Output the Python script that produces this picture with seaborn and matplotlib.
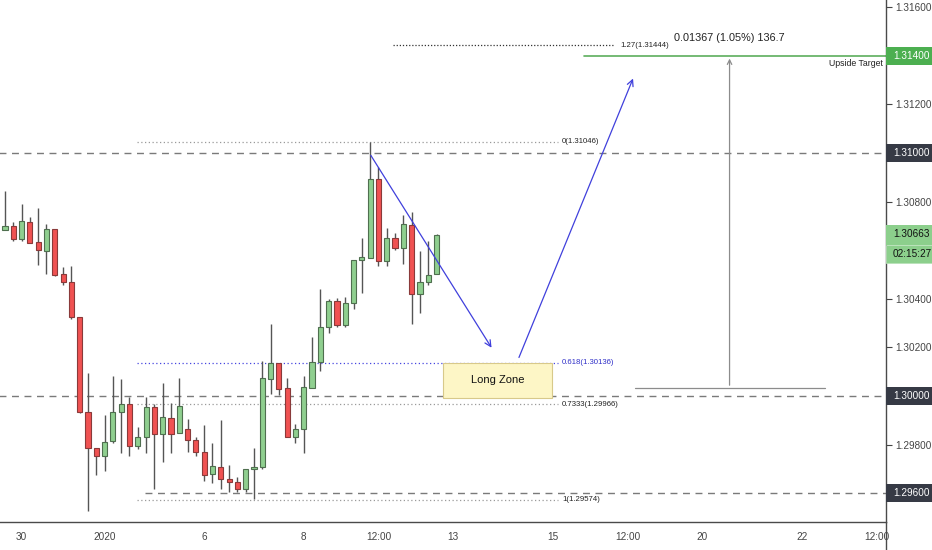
import numpy as np
import pandas as pd
import matplotlib
matplotlib.use("Agg")
import matplotlib.pyplot as plt
import matplotlib.transforms as mtransforms
from matplotlib.patches import Rectangle
from matplotlib.lines import Line2D
import seaborn as sns

# 4h candles (price units)
opens = [1.30683, 1.30700, 1.30646, 1.30716, 1.30634, 1.30597, 1.30687, 1.30502, 1.30469, 1.30325,
         1.29934, 1.29786, 1.29753, 1.29815, 1.29934, 1.29967, 1.29794, 1.29831, 1.29955, 1.29844,
         1.29909, 1.29848, 1.29864, 1.29819, 1.29770, 1.29679, 1.29708, 1.29658, 1.29646, 1.29617,
         1.29700, 1.29708, 1.30070, 1.30136, 1.30033, 1.29831, 1.29864, 1.30033, 1.30140, 1.30284,
         1.30391, 1.30292, 1.30383, 1.30560, 1.30568, 1.30893, 1.30556, 1.30650, 1.30609, 1.30704,
         1.30420, 1.30469, 1.30502]
highs = [1.30844, 1.30716, 1.30790, 1.30737, 1.30774, 1.30708, 1.30687, 1.30531, 1.30535, 1.30325,
         1.30095, 1.29786, 1.29922, 1.30082, 1.30070, 1.29996, 1.29872, 1.29996, 1.29967, 1.30053,
         1.29971, 1.30074, 1.29905, 1.29831, 1.29881, 1.29807, 1.29901, 1.29716, 1.29667, 1.29700,
         1.29786, 1.30144, 1.30296, 1.30136, 1.30074, 1.29885, 1.30082, 1.30243, 1.30440, 1.30399,
         1.30403, 1.30407, 1.30560, 1.30650, 1.31045, 1.30942, 1.30691, 1.30671, 1.30745, 1.30757,
         1.30597, 1.30638, 1.30667]
lows = [1.30683, 1.30638, 1.30638, 1.30630, 1.30539, 1.30502, 1.30494, 1.30457, 1.30317, 1.29930,
        1.29527, 1.29675, 1.29691, 1.29807, 1.29765, 1.29753, 1.29782, 1.29765, 1.29617, 1.29728,
        1.29765, 1.29848, 1.29770, 1.29753, 1.29650, 1.29642, 1.29617, 1.29605, 1.29605, 1.29605,
        1.29576, 1.29700, 1.30008, 1.30004, 1.29831, 1.29807, 1.29765, 1.30033, 1.30103, 1.30259,
        1.30284, 1.30284, 1.30358, 1.30424, 1.30568, 1.30535, 1.30535, 1.30601, 1.30543, 1.30296,
        1.30342, 1.30457, 1.30502]
closes = [1.30700, 1.30646, 1.30720, 1.30630, 1.30601, 1.30687, 1.30498, 1.30469, 1.30325, 1.29934,
          1.29786, 1.29753, 1.29811, 1.29934, 1.29967, 1.29794, 1.29831, 1.29955, 1.29844, 1.29914,
          1.29844, 1.29959, 1.29819, 1.29770, 1.29675, 1.29712, 1.29658, 1.29646, 1.29617, 1.29700,
          1.29708, 1.30074, 1.30136, 1.30029, 1.29831, 1.29864, 1.30037, 1.30140, 1.30284, 1.30391,
          1.30292, 1.30383, 1.30560, 1.30572, 1.30893, 1.30556, 1.30650, 1.30609, 1.30708, 1.30420,
          1.30469, 1.30498, 1.30663]

# time axis (candle index units)
tick_pos = [2, 12, 24, 36, 45, 54, 66, 75, 84, 96, 105]
tick_labels = ["30", "2020", "6", "8", "12:00", "13", "15", "12:00", "20", "22", "12:00"]

price_ticks = [1.296, 1.298, 1.300, 1.302, 1.304, 1.306, 1.308, 1.310, 1.312, 1.314, 1.316]
key_levels = [1.310, 1.300, 1.296]
fib_ratios = ["0", "0.618", "0.7333", "1"]
fib_prices = [1.31046, 1.30136, 1.29966, 1.29574]
ext_ratio, ext_price = "1.27", 1.31444
target_price = 1.314
last_price = 1.30663
countdown = "02:15:27"
zone_top, zone_bottom = 1.30136, 1.29992
measure_base = 1.30033
measure_text = "0.01367 (1.05%) 136.7"

df = pd.DataFrame({"open": opens, "high": highs, "low": lows, "close": closes})
df["x"] = np.arange(len(df))
df["up"] = df["close"] >= df["open"]

sns.set_theme(style="white")
plt.rcParams["font.family"] = ["Liberation Sans", "DejaVu Sans"]

fig = plt.figure(figsize=(9.32, 5.5), dpi=100)
ax = fig.add_axes([0, 28 / 550, 886 / 932, 522 / 550])
ax.set_xlim(-0.6, 106.15)
ax.set_ylim(1.294815, 1.316296)

UP, DOWN = "#8fcf8f", "#f05252"
UP_EDGE, DOWN_EDGE = "#4f6f4f", "#8a3a3a"
WICK = "#555555"
LBL = 7.2

# horizontal key levels (dashed)
for lv in key_levels:
    x0 = 16.9 if lv == 1.296 else -1
    ax.plot([x0, 107], [lv, lv], ls=(0, (5, 4)), color="#7a7a7a", lw=1, zorder=1)

# fib levels (dotted)
for r, p in zip(fib_ratios, fib_prices):
    col = "#4646e0" if r == "0.618" else "#9a9a9a"
    ax.plot([15.9, 66.6], [p, p], ls=(0, (1, 2)), color=col, lw=0.9, zorder=1)
    ax.text(67.1, p, f"{r}({p:.5f})", fontsize=5.6, va="center", ha="left",
            color="#3030c8" if r == "0.618" else "#222222")
ax.plot([46.7, 73.3], [ext_price, ext_price], ls=(0, (1, 1.5)), color="#333333", lw=0.9)
ax.text(74.1, ext_price, f"{ext_ratio}({ext_price:.5f})", fontsize=5.6, va="center", ha="left",
        color="#222222")

# candles
ax.vlines(df["x"], df["low"], df["high"], color=WICK, lw=1, zorder=2)
body_lo = df[["open", "close"]].min(axis=1)
body_h = (df["close"] - df["open"]).abs().clip(lower=0.00004)
ax.bar(df["x"], body_h, bottom=body_lo, width=0.62,
       color=[UP if u else DOWN for u in df["up"]],
       edgecolor=[UP_EDGE if u else DOWN_EDGE for u in df["up"]], lw=0.8, zorder=3)

# long zone box
ax.add_patch(Rectangle((52.8, zone_bottom), 13.1, zone_top - zone_bottom,
                       facecolor="#fdf6c6", edgecolor="#d8c98a", lw=0.8, zorder=1.5))
ax.text(59.35, (zone_top + zone_bottom) / 2, "Long Zone", fontsize=8, ha="center", va="center",
        color="#111111")

# projected path
blue = "#4040dc"
ax.annotate("", xy=(58.8, 1.30189), xytext=(43.9, 1.31000),
            arrowprops=dict(arrowstyle="->", color=blue, lw=0.9, mutation_scale=11))
ax.annotate("", xy=(75.8, 1.31317), xytext=(61.8, 1.30148),
            arrowprops=dict(arrowstyle="->", color=blue, lw=0.9, mutation_scale=11))

# upside target
ax.plot([69.8, 107], [target_price, target_price], color="#5cae5c", lw=1.2, zorder=2)
ax.text(105.8, 1.31370, "Upside Target", fontsize=6.3, ha="right", va="center", color="#222222")

# measurement
gray = "#8c8c8c"
ax.plot([75.9, 98.8], [measure_base, measure_base], color=gray, lw=0.9)
ax.annotate("", xy=(87.3, target_price), xytext=(87.3, measure_base),
            arrowprops=dict(arrowstyle="->", color=gray, lw=0.9, mutation_scale=8))
ax.text(87.3, 1.31475, measure_text, fontsize=7.8, ha="center", va="center", color="#222222")

# axes styling
sns.despine(ax=ax, left=True, top=True, right=False, bottom=False)
for side in ["right", "bottom"]:
    ax.spines[side].set_color("#4a4a4a")
    ax.spines[side].set_linewidth(1)
ax.yaxis.tick_right()
ax.set_yticks(price_ticks)
highlight = {1.314: ("#4caf50", "white"), 1.310: ("#363a45", "white"),
             1.300: ("#363a45", "white"), 1.296: ("#363a45", "white")}
covered = set(highlight) | {1.306}  # 1.306 sits under the last-price box
ax.set_yticklabels(["" if round(t, 3) in covered else f"{t:.5f}" for t in price_ticks])
ax.tick_params(axis="y", length=4, width=0.8, pad=3, labelsize=LBL, colors="#444444", direction="out")
ax.set_xticks(tick_pos)
ax.set_xticklabels(tick_labels)
ax.tick_params(axis="x", length=3, width=0.8, pad=4, labelsize=LBL, colors="#444444", direction="out")
ax.grid(False)

trans = mtransforms.blended_transform_factory(ax.transAxes, ax.transData)
box_w = 46 / 886
half_h = 0.00036
tx = 1.0 + 7 / 886
for lv, (fc, tc) in highlight.items():
    ax.add_patch(Rectangle((1.0, lv - half_h), box_w, 2 * half_h, transform=trans,
                           facecolor=fc, edgecolor="none", clip_on=False, zorder=5))
    ax.text(tx, lv, f"{lv:.5f}", transform=trans, fontsize=LBL, color=tc,
            ha="left", va="center", clip_on=False, zorder=6)

# last price + countdown
lp_h = 0.00040
ax.add_patch(Rectangle((1.0, last_price - lp_h), box_w, 2 * lp_h, transform=trans,
                       facecolor="#8ccf8c", edgecolor="none", clip_on=False, zorder=5))
ax.add_patch(Rectangle((1.0, last_price - lp_h - 0.00074), box_w, 0.00074, transform=trans,
                       facecolor="#8ccf8c", edgecolor="#b8e2b8", lw=0.6, clip_on=False, zorder=5))
ax.text(tx, last_price + 0.00003, f"{last_price:.5f}", transform=trans, fontsize=LBL,
        color="#111111", ha="left", va="center", clip_on=False, zorder=6)
ax.text(tx, last_price - lp_h - 0.00039, countdown, transform=trans, fontsize=LBL,
        color="#111111", ha="left", va="center", clip_on=False, zorder=6)

fig.add_artist(Line2D([886 / 932, 886 / 932], [0, 28 / 550], color="#4a4a4a", lw=1))

fig.savefig("out.png", dpi=100, facecolor="white")
